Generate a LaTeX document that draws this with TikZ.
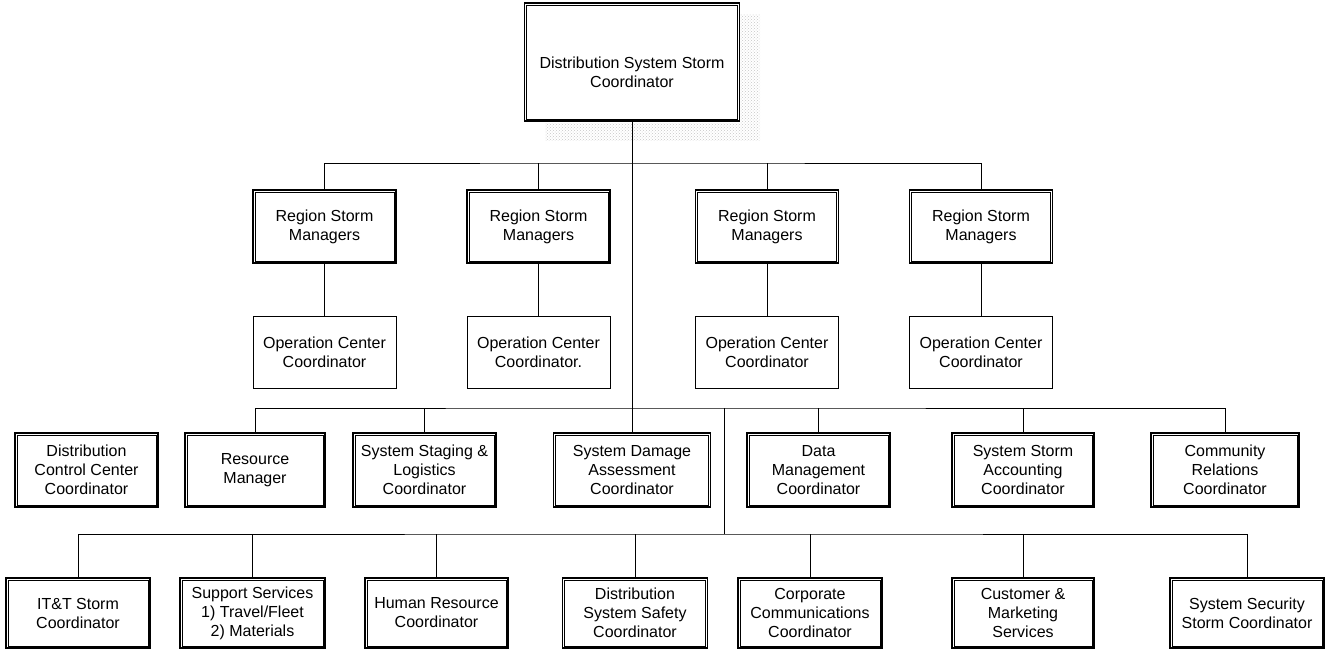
\documentclass[tikz,border=0pt]{standalone}
\usepackage{fontspec}
\setmainfont{Liberation Sans}
\usetikzlibrary{patterns}
\begin{document}
\begin{tikzpicture}[x=1pt,y=-1pt,
  lbl/.style={align=center, inner sep=0pt, font=\fontsize{16}{19}\selectfont},
  dbox/.style={lbl, draw, line width=1.6pt},
  sbox/.style={lbl, draw, line width=0.8pt},
  inner/.style={draw, line width=0.6pt},
  wire/.style={line width=0.9pt},
  rowA/.style={minimum height=73pt, minimum width=143pt},
  rowB/.style={minimum height=72pt, minimum width=143pt},
  rowC/.style={minimum height=74pt},
  rowD/.style={minimum height=70pt}]
\useasboundingbox (0,0) rectangle (1326,651);

% speckled shadow round the head box
\fill[pattern=crosshatch dots, pattern color=gray!45] (740,14) rectangle (760,140);
\fill[pattern=crosshatch dots, pattern color=gray!45] (545,123) rectangle (740,140);

% head: frame and its text, set a little below the middle
\node[dbox, minimum width=215pt, minimum height=118pt] (top) at (632,62) {};
\node[lbl] (toptext) at (632,72) {Distribution System Storm\\Coordinator};

% region managers and their operation centres
\node[dbox, rowA] (r1) at (324.5,226.5) {Region Storm\\Managers};
\node[dbox, rowA] (r2) at (538.5,226.5) {Region Storm\\Managers};
\node[dbox, rowA] (r3) at (767,226.5) {Region Storm\\Managers};
\node[dbox, rowA] (r4) at (981,226.5) {Region Storm\\Managers};
\node[sbox, rowB] (o1) at (324.5,352) {Operation Center\\Coordinator};
\node[sbox, rowB] (o2) at (538.5,352) {Operation Center\\Coordinator.};
\node[sbox, rowB] (o3) at (767,352) {Operation Center\\Coordinator};
\node[sbox, rowB] (o4) at (981,352) {Operation Center\\Coordinator};

% system coordinators
\node[dbox, rowC, minimum width=143pt] (dcc) at (86.5,470) {Distribution\\Control Center\\Coordinator};
\node[dbox, rowC, minimum width=140pt] (rm) at (255,470) {Resource\\Manager};
\node[dbox, rowC, minimum width=143pt] (ssl) at (424.5,470) {System Staging \&\\Logistics\\Coordinator};
\node[dbox, rowC, minimum width=157pt] (sda) at (632,470) {System Damage\\Assessment\\Coordinator};
\node[dbox, rowC, minimum width=143pt] (dm) at (818.5,470) {Data\\Management\\Coordinator};
\node[dbox, rowC, minimum width=142pt] (ssa) at (1023,470) {System Storm\\Accounting\\Coordinator};
\node[dbox, rowC, minimum width=148pt] (crc) at (1225,470) {Community\\Relations\\Coordinator};

% support coordinators
\node[dbox, rowD, minimum width=144pt] (itt) at (78,613) {IT\&T Storm\\Coordinator};
\node[dbox, rowD, minimum width=145pt] (sup) at (252.5,613) {Support Services\\1) Travel/Fleet\\2) Materials};
\node[dbox, rowD, minimum width=143pt] (hr) at (436.5,613) {Human Resource\\Coordinator};
\node[dbox, rowD, minimum width=145pt] (dss) at (635,613) {Distribution\\System Safety\\Coordinator};
\node[dbox, rowD, minimum width=144pt] (cc) at (810,613) {Corporate\\Communications\\Coordinator};
\node[dbox, rowD, minimum width=142pt] (cms) at (1023,613) {Customer \&\\Marketing\\Services};
\node[dbox, rowD, minimum width=154pt] (ssc) at (1247,613) {System Security\\Storm Coordinator};

% inner lines of the double frames
\foreach \n in {top,r1,r2,r3,r4,dcc,rm,ssl,sda,dm,ssa,crc,itt,sup,hr,dss,cc,cms,ssc}
  \draw[inner] ([shift={(3pt,3pt)}]\n.south west) rectangle ([shift={(-3pt,-3pt)}]\n.north east);

% bus points
\coordinate (busA) at (632,163);
\coordinate (busB) at (632,408);
\coordinate (busBx) at (724,408);
\coordinate (busC) at (724,534);

% connectors
\draw[wire] (top.south) -- (sda.north);
\draw[wire] (r1.north) |- (busA) -| (r4.north);
\draw[wire] (r2.north) -- (r2.north |- busA);
\draw[wire] (r3.north) -- (r3.north |- busA);
\foreach \i in {1,2,3,4} \draw[wire] (r\i.south) -- (o\i.north);

\draw[wire] (rm.north) |- (busB) -| (crc.north);
\foreach \n in {ssl,dm,ssa} \draw[wire] (\n.north) -- (\n.north |- busB);
\draw[wire] (busBx) -- (busC);

\draw[wire] (itt.north) |- (busC) -| (ssc.north);
\foreach \n in {sup,hr,dss,cc,cms} \draw[wire] (\n.north) -- (\n.north |- busC);
\end{tikzpicture}
\end{document}
